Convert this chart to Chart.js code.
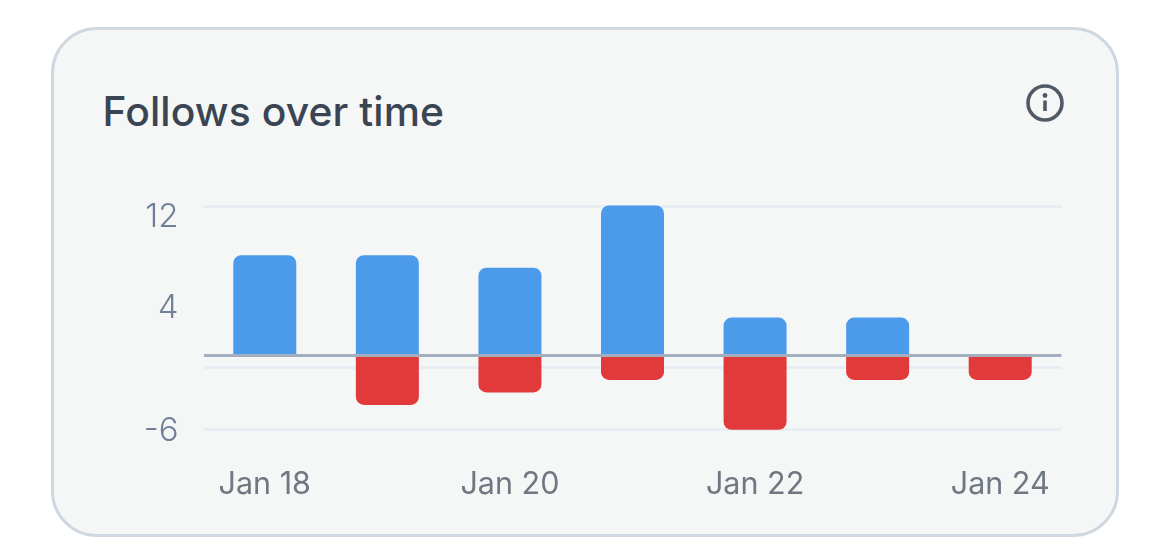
<!DOCTYPE html>
<html>
<head>
<meta charset="utf-8">
<title>Follows over time</title>
<script src="https://cdn.jsdelivr.net/npm/chart.js@4"></script>
<style>
    html, body { margin: 0; padding: 0; background: #fff; }
    body { width: 1170px; height: 558px; position: relative; overflow: hidden; }
    .card {
        position: absolute; left: 51px; top: 27px; width: 1062px; height: 504px;
        background: #f5f7f7; border: 3px solid #cfd8e1; border-radius: 46px;
    }
    .card-title {
        position: absolute; left: 102.5px; top: 86px; margin: 0;
        font: 500 40.8px Inter, sans-serif; color: #3a4553; letter-spacing: 0.1px;
    }
    .info-icon { position: absolute; left: 1025px; top: 83px; }
    #follows-chart { position: absolute; left: 0; top: 0; }
</style>
</head>
<body>
<div class="card"></div>
<h1 class="card-title">Follows over time</h1>
<svg class="info-icon" width="40" height="40" viewBox="0 0 40 40">
    <circle cx="20" cy="20" r="17" fill="none" stroke="#4f5a66" stroke-width="3.6"/>
    <circle cx="20" cy="12.5" r="2.4" fill="#4f5a66"/>
    <rect x="18.2" y="17.5" width="3.6" height="10.5" fill="#4f5a66"/>
</svg>
<canvas id="follows-chart" width="1170" height="558"></canvas>
<script>
// Data
const days = ['Jan 18', 'Jan 19', 'Jan 20', 'Jan 21', 'Jan 22', 'Jan 23', 'Jan 24'];
const follows = [8, 8, 7, 12, 3, 3, 0];
const unfollows = [0, -4, -3, -2, -6, -2, -2];

// Grid lines sit at these values, the labels are a bit off from them in the original
const gridValues = [11.9, -1, -6];
const labelValues = [11.1, 3.8, 0, -6.1];
const labelTexts = ['12', '4', '', '-6'];

new Chart(document.getElementById('follows-chart'), {
    type: 'bar',
    data: {
        labels: days,
        datasets: [{
            label: 'Follows',
            data: follows,
            backgroundColor: '#4c9aea',
            borderRadius: { topLeft: 8, topRight: 8 },
            borderSkipped: false
        }, {
            label: 'Unfollows',
            data: unfollows,
            backgroundColor: '#e23a3a',
            borderRadius: { bottomLeft: 8, bottomRight: 8 },
            borderSkipped: false
        }]
    },
    options: {
        responsive: false,
        animation: false,
        layout: { padding: { top: 200.4, right: 108.5, bottom: 0, left: 0 } },
        datasets: { bar: { barPercentage: 0.514, categoryPercentage: 1 } },
        plugins: { legend: { display: false }, title: { display: false } },
        scales: {
            x: {
                stacked: true,
                grid: { display: false },
                border: { display: false },
                ticks: {
                    autoSkip: false,
                    maxRotation: 0,
                    padding: 24,
                    color: '#6f7782',
                    font: { family: 'Inter, sans-serif', size: 30.5, weight: '400' },
                    callback: function (value, index) {
                        return index % 2 === 0 ? days[index] : '';
                    }
                },
                afterFit: function (axis) { axis.height = 123.2; }
            },
            y: {
                stacked: true,
                min: -6.4,
                max: 12.4,
                border: { display: false },
                grid: { color: '#e8edf3', lineWidth: 3, drawTicks: false },
                ticks: { display: false },
                afterBuildTicks: function (axis) {
                    axis.ticks = gridValues.map(function (v) { return { value: v }; });
                },
                afterFit: function (axis) { axis.width = 0; }
            },
            // labels + the zero line, which goes over the bars
            yLabels: {
                position: 'left',
                min: -6.4,
                max: 12.4,
                border: { display: false },
                grid: {
                    z: 1,
                    drawTicks: false,
                    lineWidth: 3,
                    color: function (ctx) {
                        return ctx.tick && ctx.tick.value === 0 ? '#a3afbf' : 'transparent';
                    }
                },
                ticks: {
                    autoSkip: false,
                    padding: 25,
                    color: '#718096',
                    font: { family: 'Inter, sans-serif', size: 33, weight: '300' },
                    callback: function (value) {
                        return labelTexts[labelValues.indexOf(value)];
                    }
                },
                afterBuildTicks: function (axis) {
                    axis.ticks = labelValues.map(function (v) { return { value: v }; });
                },
                afterFit: function (axis) { axis.width = 203.5; }
            }
        }
    }
});
</script>
</body>
</html>
